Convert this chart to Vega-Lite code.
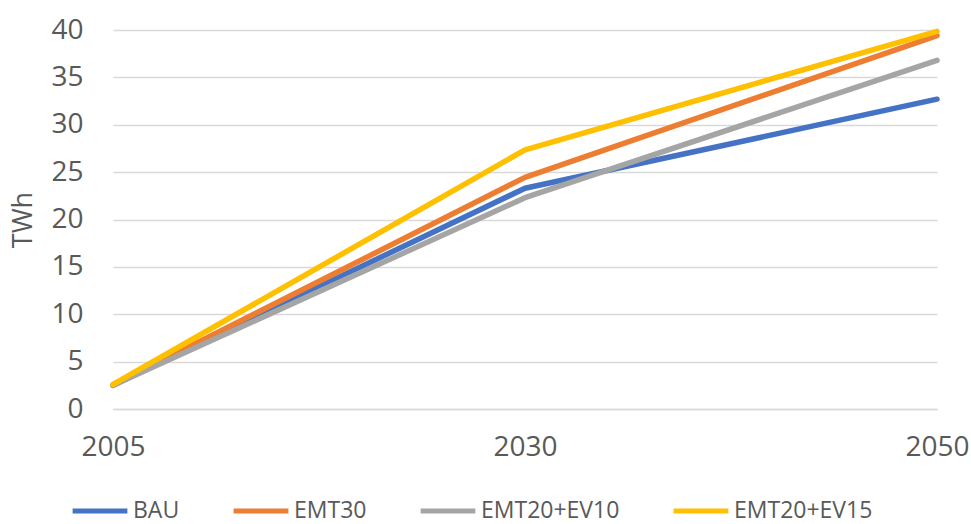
{
  "$schema": "https://vega.github.io/schema/vega-lite/v6.json",
  "width": 824,
  "height": 379,
  "autosize": {"type": "none"},
  "padding": {"left": 113, "top": 30, "right": 34, "bottom": 115},
  "background": "white",
  "config": {
    "view": {"stroke": null},
    "font": "Open Sans",
    "axis": {"labelFont": "Open Sans", "titleFont": "Open Sans", "labelColor": "#595959", "titleColor": "#595959"}
  },
  "data": {
    "values": [
      {"series": "BAU", "year": "2005", "value": 2.5},
      {"series": "BAU", "year": "2030", "value": 23.3},
      {"series": "BAU", "year": "2050", "value": 32.7},
      {"series": "EMT30", "year": "2005", "value": 2.5},
      {"series": "EMT30", "year": "2030", "value": 24.45},
      {"series": "EMT30", "year": "2050", "value": 39.4},
      {"series": "EMT20+EV10", "year": "2005", "value": 2.5},
      {"series": "EMT20+EV10", "year": "2030", "value": 22.3},
      {"series": "EMT20+EV10", "year": "2050", "value": 36.8},
      {"series": "EMT20+EV15", "year": "2005", "value": 2.6},
      {"series": "EMT20+EV15", "year": "2030", "value": 27.35},
      {"series": "EMT20+EV15", "year": "2050", "value": 39.85}
    ]
  },
  "mark": {"type": "line", "strokeWidth": 5.5, "strokeCap": "round", "strokeJoin": "round"},
  "encoding": {
    "x": {
      "field": "year", "type": "ordinal",
      "scale": {"type": "point", "padding": 0},
      "axis": {"title": null, "labelAngle": 0, "labelFontSize": 28, "labelPadding": 24, "ticks": false, "domain": true, "domainColor": "#D9D9D9", "domainWidth": 1.5, "grid": false}
    },
    "y": {
      "field": "value", "type": "quantitative",
      "scale": {"domain": [0, 40], "nice": false},
      "axis": {"title": "TWh", "titleFontSize": 27, "titleFontWeight": "normal", "titlePadding": 13, "labelFontSize": 28, "labelPadding": 30, "ticks": false, "domain": false, "gridColor": "#D9D9D9", "gridWidth": 1.5, "values": [0, 5, 10, 15, 20, 25, 30, 35, 40]}
    },
    "color": {
      "field": "series", "type": "nominal",
      "scale": {"domain": ["BAU", "EMT30", "EMT20+EV10", "EMT20+EV15"], "range": ["#4472C4", "#ED7D31", "#A5A5A5", "#FFC000"]},
      "legend": {
        "title": null, "orient": "none", "direction": "horizontal",
        "legendX": -43, "legendY": 451,
        "symbolType": "stroke", "symbolSize": 3000, "symbolStrokeWidth": 5,
        "labelFontSize": 23, "labelLimit": 400, "labelColor": "#595959", "labelOffset": 3, "columnPadding": 43
      }
    }
  }
}
